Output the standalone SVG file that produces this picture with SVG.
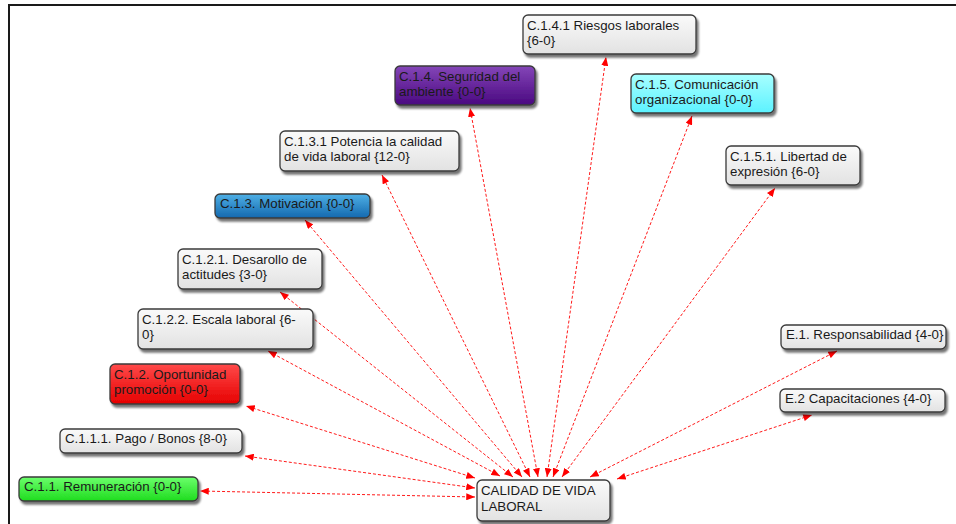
<svg xmlns="http://www.w3.org/2000/svg" width="956" height="524" viewBox="0 0 956 524">
  <defs>
    <style>
      .box { stroke: #3a3a3a; stroke-width: 1.3; filter: url(#shadow); }
      .lbl { font-family: "Liberation Sans", Arial, sans-serif; font-size: 13.3px; fill: #1a1a1a; }
      .link { stroke: #ff1a1a; stroke-width: 1; stroke-dasharray: 3 2; fill: none;
              marker-start: url(#arrow); marker-end: url(#arrow); }
      .frame { stroke: #1a1a1a; stroke-width: 2; fill: none; }
    </style>
    <filter id="shadow" x="-10%" y="-20%" width="125%" height="150%">
      <feGaussianBlur in="SourceAlpha" stdDeviation="1"/>
      <feOffset dx="2" dy="3" result="off"/>
      <feComponentTransfer><feFuncA type="linear" slope="0.55"/></feComponentTransfer>
      <feMerge><feMergeNode/><feMergeNode in="SourceGraphic"/></feMerge>
    </filter>
    <marker id="arrow" viewBox="0 0 10 8" refX="10" refY="4" markerWidth="9" markerHeight="7"
            markerUnits="userSpaceOnUse" orient="auto-start-reverse">
      <path d="M0,0 L10,4 L0,8 z" fill="#ff0000"/>
    </marker>
    <linearGradient id="gGray" x1="0" y1="0" x2="0" y2="1">
      <stop offset="0" stop-color="#fafafa"/><stop offset="1" stop-color="#e2e2e2"/>
    </linearGradient>
    <linearGradient id="gPurple" x1="0" y1="0" x2="0" y2="1">
      <stop offset="0" stop-color="#8446b8"/><stop offset="1" stop-color="#4a0880"/>
    </linearGradient>
    <linearGradient id="gCyan" x1="0" y1="0" x2="0" y2="1">
      <stop offset="0" stop-color="#a8ffff"/><stop offset="1" stop-color="#5cf2ff"/>
    </linearGradient>
    <linearGradient id="gBlue" x1="0" y1="0" x2="0" y2="1">
      <stop offset="0" stop-color="#4eb0e6"/><stop offset="1" stop-color="#1468ae"/>
    </linearGradient>
    <linearGradient id="gRed" x1="0" y1="0" x2="0" y2="1">
      <stop offset="0" stop-color="#ff4a4a"/><stop offset="1" stop-color="#e60000"/>
    </linearGradient>
    <linearGradient id="gGreen" x1="0" y1="0" x2="0" y2="1">
      <stop offset="0" stop-color="#6cff6c"/><stop offset="1" stop-color="#1edc1e"/>
    </linearGradient>
  </defs>

  <rect width="956" height="524" fill="#ffffff"/>
  <!-- outer frame (top and left edges) -->
  <path class="frame" d="M9,524 V5 H956"/>

  <!-- connectors -->
  <g id="connectors">
    <line class="link" x1="475" y1="497" x2="200" y2="491"/>
    <line class="link" x1="475" y1="488" x2="245" y2="456"/>
    <line class="link" x1="475" y1="478" x2="246" y2="406"/>
    <line class="link" x1="500" y1="476" x2="268" y2="351"/>
    <line class="link" x1="513" y1="477" x2="280" y2="292"/>
    <line class="link" x1="522" y1="477" x2="305" y2="220"/>
    <line class="link" x1="530" y1="477" x2="382" y2="175"/>
    <line class="link" x1="538" y1="477" x2="470" y2="108"/>
    <line class="link" x1="547" y1="477" x2="606" y2="57"/>
    <line class="link" x1="553" y1="477" x2="692" y2="116"/>
    <line class="link" x1="562" y1="477" x2="775" y2="188"/>
    <line class="link" x1="590" y1="477" x2="837" y2="351"/>
    <line class="link" x1="617" y1="479" x2="812" y2="415"/>
  </g>

  <!-- nodes -->
  <g id="n-c141">
    <rect class="box" x="523" y="15" width="173" height="39" rx="5" fill="url(#gGray)"/>
    <text class="lbl" x="527" y="30">C.1.4.1 Riesgos laborales</text>
    <text class="lbl" x="527" y="45">{6-0}</text>
  </g>
  <g id="n-c14">
    <rect class="box" x="395" y="66" width="140" height="39" rx="5" fill="url(#gPurple)"/>
    <text class="lbl" x="399" y="81">C.1.4. Seguridad del</text>
    <text class="lbl" x="399" y="96">ambiente {0-0}</text>
  </g>
  <g id="n-c15">
    <rect class="box" x="631" y="74" width="143" height="39" rx="5" fill="url(#gCyan)"/>
    <text class="lbl" x="635" y="89">C.1.5. Comunicación</text>
    <text class="lbl" x="635" y="104">organizacional {0-0}</text>
  </g>
  <g id="n-c151">
    <rect class="box" x="726" y="146" width="134" height="39" rx="5" fill="url(#gGray)"/>
    <text class="lbl" x="730" y="161">C.1.5.1. Libertad de</text>
    <text class="lbl" x="730" y="176">expresión {6-0}</text>
  </g>
  <g id="n-c131">
    <rect class="box" x="280" y="131" width="179" height="40" rx="5" fill="url(#gGray)"/>
    <text class="lbl" x="284" y="146">C.1.3.1 Potencia la calidad</text>
    <text class="lbl" x="284" y="161">de vida laboral {12-0}</text>
  </g>
  <g id="n-c13">
    <rect class="box" x="215" y="194" width="155" height="24" rx="5" fill="url(#gBlue)"/>
    <text class="lbl" x="220" y="208">C.1.3. Motivación {0-0}</text>
  </g>
  <g id="n-c121">
    <rect class="box" x="178" y="249" width="144" height="40" rx="5" fill="url(#gGray)"/>
    <text class="lbl" x="182" y="264">C.1.2.1. Desarollo de</text>
    <text class="lbl" x="182" y="279">actitudes {3-0}</text>
  </g>
  <g id="n-c122">
    <rect class="box" x="138" y="309" width="175" height="40" rx="5" fill="url(#gGray)"/>
    <text class="lbl" x="142" y="324">C.1.2.2. Escala laboral {6-</text>
    <text class="lbl" x="142" y="339">0}</text>
  </g>
  <g id="n-c12">
    <rect class="box" x="110" y="364" width="130" height="40" rx="5" fill="url(#gRed)"/>
    <text class="lbl" x="114" y="379">C.1.2. Oportunidad</text>
    <text class="lbl" x="114" y="394">promoción {0-0}</text>
  </g>
  <g id="n-c111">
    <rect class="box" x="60" y="429" width="182" height="24" rx="5" fill="url(#gGray)"/>
    <text class="lbl" x="65" y="443">C.1.1.1. Pago / Bonos {8-0}</text>
  </g>
  <g id="n-c11">
    <rect class="box" x="19" y="477" width="179" height="24" rx="5" fill="url(#gGreen)"/>
    <text class="lbl" x="24" y="491">C.1.1. Remuneración {0-0}</text>
  </g>
  <g id="n-e1">
    <rect class="box" x="781" y="325" width="165" height="24" rx="5" fill="url(#gGray)"/>
    <text class="lbl" x="786" y="339">E.1. Responsabilidad {4-0}</text>
  </g>
  <g id="n-e2">
    <rect class="box" x="780" y="389" width="165" height="23" rx="5" fill="url(#gGray)"/>
    <text class="lbl" x="785" y="403">E.2 Capacitaciones {4-0}</text>
  </g>
  <g id="n-root">
    <rect class="box" x="477" y="480" width="133" height="41" rx="5" fill="url(#gGray)"/>
    <text class="lbl" x="481" y="495">CALIDAD DE VIDA</text>
    <text class="lbl" x="481" y="511">LABORAL</text>
  </g>
</svg>
